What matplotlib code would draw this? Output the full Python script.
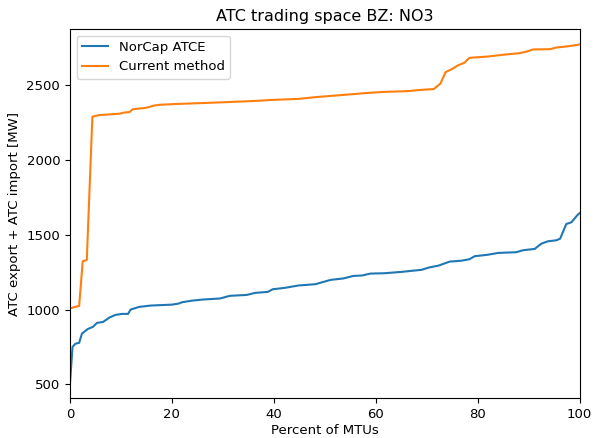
import matplotlib
matplotlib.use("Agg")
import matplotlib.pyplot as plt

# NorCap ATCE duration curve (percent of MTUs, MW)
norcap_x = [0, 0.5, 1.1, 1.8, 2.35, 3.5, 4.5, 5.3, 6.5, 7.7, 8.9, 10.2, 11.4, 11.9,
            13.6, 15.9, 20, 21.3, 22, 24, 26, 29.4, 31.4, 34.7, 36.4, 38.8, 39.8,
            42.1, 44.8, 48.2, 49.5, 51.2, 53.6, 55.6, 57.3, 59, 61.6, 65, 69, 70.4,
            72.4, 74.5, 76.8, 78.4, 79.4, 82.0, 84.0, 87.6, 88.9, 91.2, 92.5, 93.8,
            95.5, 96.2, 97.4, 98.4, 99.6, 100]
norcap_y = [505, 750, 772, 777, 839, 870, 884, 911, 917, 946, 964, 971, 971, 1000,
            1018, 1027, 1033, 1040, 1049, 1060, 1067, 1074, 1092, 1098, 1112, 1118, 1136,
            1145, 1161, 1170, 1183, 1199, 1208, 1225, 1228, 1241, 1243, 1252, 1266, 1281,
            1295, 1321, 1327, 1337, 1357, 1367, 1379, 1384, 1397, 1406, 1441, 1457,
            1464, 1475, 1573, 1584, 1633, 1645]

# Current method duration curve (percent of MTUs, MW)
current_x = [0, 1.8, 2.5, 3.3, 4.4, 5.8, 8.5, 9.7, 10.5, 11.7, 12.3, 14.6, 15.4, 16.4,
             17.7, 20.8, 27.4, 36.1, 39.5, 44.8, 48.2, 51.5, 55.6, 58.3, 61.6, 66.3,
             68.3, 71.4, 72.7, 73.7, 75.1, 76.1, 77.4, 78.4, 81.8, 85.1, 88.2, 89.5,
             90.9, 94.2, 95.6, 97.2, 99.3, 100]
current_y = [1009, 1024, 1323, 1332, 2291, 2302, 2308, 2311, 2318, 2322, 2341, 2349, 2354, 2365,
             2371, 2376, 2384, 2396, 2403, 2410, 2422, 2431, 2442, 2450, 2457, 2462,
             2469, 2476, 2513, 2589, 2612, 2634, 2652, 2685, 2693, 2706, 2716, 2726,
             2741, 2743, 2755, 2760, 2770, 2775]

fig = plt.figure(figsize=(5.96, 4.38), dpi=100)
ax = fig.add_axes([0.1174, 0.0913, 0.855, 0.8425])
ax.plot(norcap_x, norcap_y, color="#1f77b4", lw=1.5, label="NorCap ATCE")
ax.plot(current_x, current_y, color="#ff7f0e", lw=1.5, label="Current method")
ax.set_xlim(0, 100)
ax.set_ylim(408, 2878)
ax.set_xticks([0, 20, 40, 60, 80, 100])
ax.set_yticks([500, 1000, 1500, 2000, 2500])
ax.tick_params(labelsize=9.5)
ax.set_xlabel("Percent of MTUs", labelpad=2, fontsize=9.5)
ax.set_ylabel("ATC export + ATC import [MW]", labelpad=4, fontsize=9.5)
ax.set_title("ATC trading space BZ: NO3", fontsize=11.5)
ax.legend(loc="upper left", fontsize=9.5)
fig.savefig("out.png", dpi=100)
